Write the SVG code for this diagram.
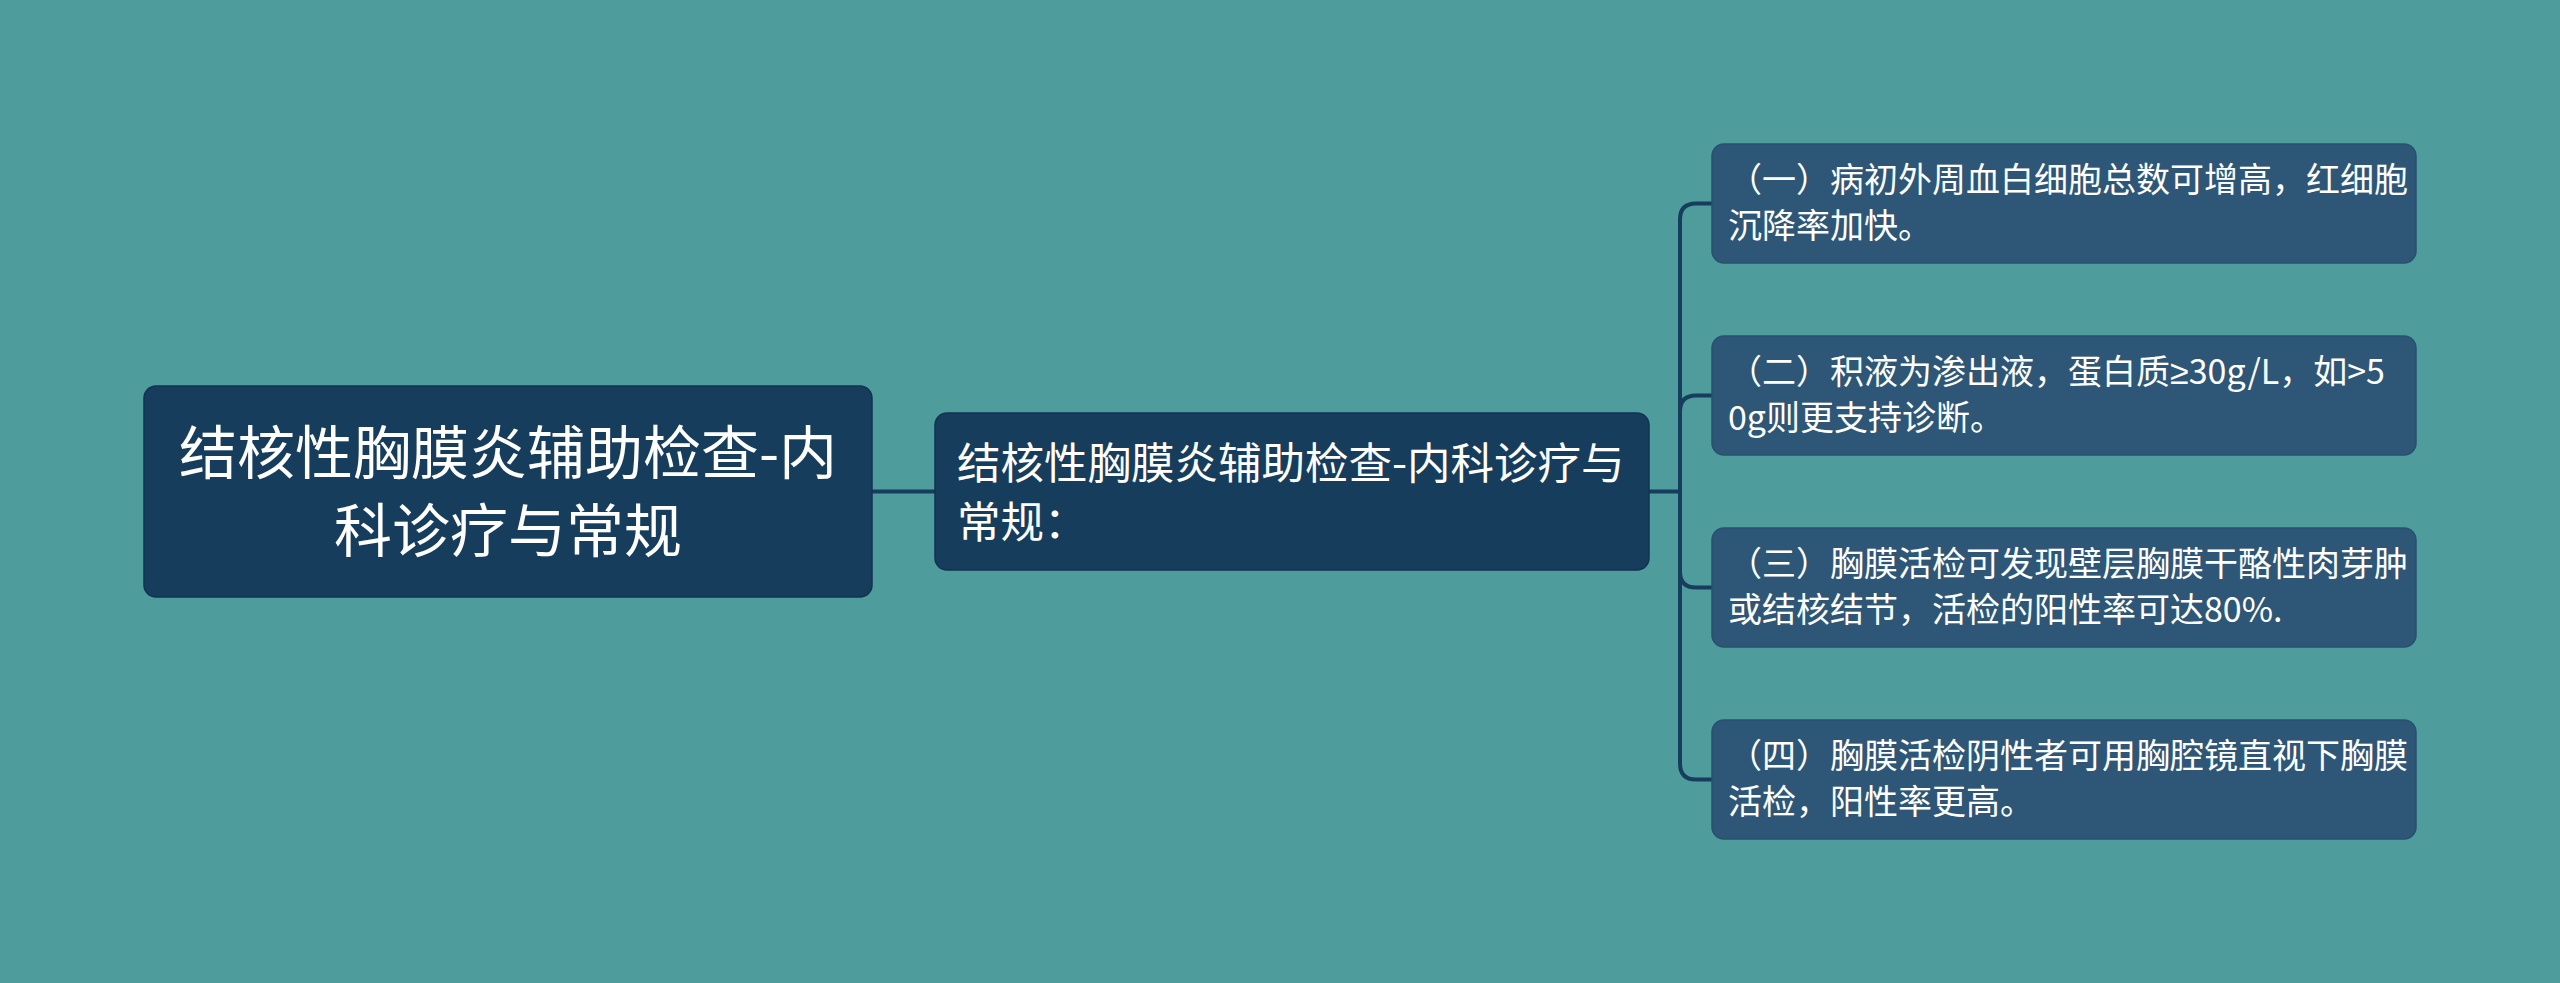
<svg xmlns="http://www.w3.org/2000/svg" width="2560" height="983" viewBox="0 0 2560 983">
<style>
.bg{fill:#4e9c9c}
.dark{fill:#173d5d;stroke:#123350;stroke-width:1.5}
.leaf{fill:#2e5777;stroke:#28506f;stroke-width:1.5}
.t{fill:#ffffff;font-family:"Noto Sans CJK SC","Noto Sans",sans-serif}
.conn{fill:none;stroke:#173d5d;stroke-width:4;stroke-linecap:round}
</style>
<rect class="bg" x="0" y="0" width="2560" height="983"/>
<g id="connectors">
<path class="conn" d="M872,491.5 H935"/>
<path class="conn" d="M1649,491.5 H1680"/>
<path class="conn" d="M1680,491.5 V219.5 Q1680,203.5 1696,203.5 H1712"/>
<path class="conn" d="M1680,491.5 V411.5 Q1680,395.5 1696,395.5 H1712"/>
<path class="conn" d="M1680,491.5 V571.5 Q1680,587.5 1696,587.5 H1712"/>
<path class="conn" d="M1680,491.5 V763.5 Q1680,779.5 1696,779.5 H1712"/>
</g>
<g id="root">
<rect class="dark" x="144" y="386" width="728" height="211" rx="12"/>
<text class="t" x="508" y="473.5" font-size="58" text-anchor="middle">结核性胸膜炎辅助检查-内</text>
<text class="t" x="508" y="552" font-size="58" text-anchor="middle">科诊疗与常规</text>
</g>
<g id="middle">
<rect class="dark" x="935" y="413" width="714" height="157" rx="12"/>
<text class="t" x="957" y="479" font-size="43.5">结核性胸膜炎辅助检查-内科诊疗与</text>
<text class="t" x="957" y="538" font-size="43.5">常规：</text>
</g>
<g id="leaf1">
<rect class="leaf" x="1712" y="144" width="704" height="119" rx="12"/>
<text class="t" x="1728" y="192" font-size="34">（一）病初外周血白细胞总数可增高，红细胞</text>
<text class="t" x="1728" y="238" font-size="34">沉降率加快。</text>
</g>
<g id="leaf2">
<rect class="leaf" x="1712" y="336" width="704" height="119" rx="12"/>
<text class="t" x="1728" y="384" font-size="34">（二）积液为渗出液，蛋白质<tspan font-family="'Noto Sans',sans-serif">≥</tspan>30g/L，如&gt;5</text>
<text class="t" x="1728" y="430" font-size="34">0g则更支持诊断。</text>
</g>
<g id="leaf3">
<rect class="leaf" x="1712" y="528" width="704" height="119" rx="12"/>
<text class="t" x="1728" y="576" font-size="34">（三）胸膜活检可发现壁层胸膜干酪性肉芽肿</text>
<text class="t" x="1728" y="622" font-size="34">或结核结节，活检的阳性率可达80%.</text>
</g>
<g id="leaf4">
<rect class="leaf" x="1712" y="720" width="704" height="119" rx="12"/>
<text class="t" x="1728" y="768" font-size="34">（四）胸膜活检阴性者可用胸腔镜直视下胸膜</text>
<text class="t" x="1728" y="814" font-size="34">活检，阳性率更高。</text>
</g>
</svg>
